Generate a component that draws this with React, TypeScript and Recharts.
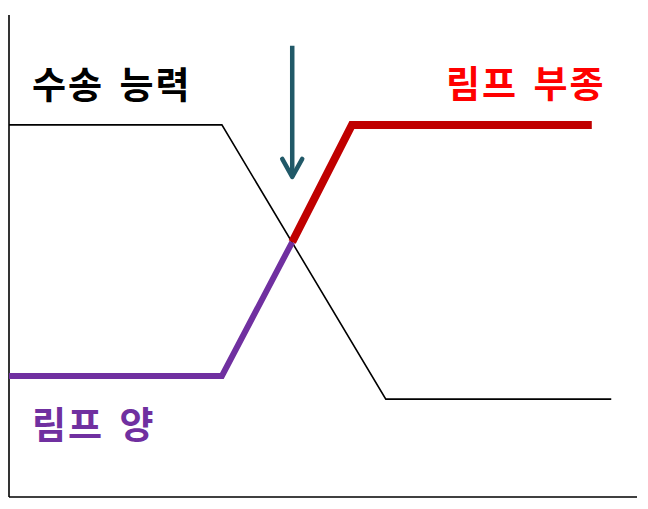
import { LineChart, Line, XAxis, YAxis, ReferenceLine } from 'recharts';

// Schematic: transport capacity vs lymph load, crossing into lymphoedema.
// x = time (0..100), y = level (0..100).
const capacityX = [0, 33.9, 60.0, 95.9];
const capacityY = [77.2, 77.2, 20.3, 20.3];

const loadX = [0, 33.9, 45.1];
const loadY = [25.1, 25.1, 52.9];

const edemaX = [45.1, 54.6, 92.8];
const edemaY = [52.9, 77.2, 77.2];

const arrowX = [45.1, 45.1];
const arrowY = [93.6, 66.4];

const LABEL_CAPACITY = '수송 능력';
const LABEL_EDEMA = '림프 부종';
const LABEL_LOAD = '림프 양';

const toPoints = (xs: number[], ys: number[]) => xs.map((x, i) => ({ x, y: ys[i] }));

const ARROW = '#215968';
const FONT = '"Noto Sans CJK KR", "Noto Sans", sans-serif';

function ArrowHead(props: any) {
  const { cx, cy, index } = props;
  if (index !== arrowX.length - 1) return <g key={`a${index}`} />;
  return (
    <path
      key={`a${index}`}
      d={`M${cx - 10},${cy - 18} L${cx},${cy} L${cx + 10},${cy - 18}`}
      fill="none"
      stroke={ARROW}
      strokeWidth={4.5}
      strokeLinecap="round"
      strokeLinejoin="round"
    />
  );
}

const labelStyle = (color: string, left: number, top: number): React.CSSProperties => ({
  position: 'absolute',
  left,
  top,
  color,
  fontFamily: FONT,
  fontWeight: 700,
  fontSize: 37,
  lineHeight: 1,
  whiteSpace: 'pre',
  letterSpacing: 2,
  wordSpacing: 5,
});

export default function App() {
  return (
    <div style={{ position: 'absolute', left: 0, top: 0, width: 648, height: 509, background: '#fff' }}>
      <LineChart width={648} height={509} margin={{ top: 15, right: 11, bottom: 12, left: 9 }}>
        <XAxis type="number" dataKey="x" domain={[0, 100]} allowDataOverflow hide />
        <YAxis type="number" dataKey="y" domain={[0, 100]} allowDataOverflow hide />
        <ReferenceLine x={0} stroke="#000" strokeWidth={1.6} />
        <ReferenceLine y={0} stroke="#000" strokeWidth={1.6} />
        <Line
          data={toPoints(capacityX, capacityY)}
          dataKey="y"
          type="linear"
          stroke="#000"
          strokeWidth={1.6}
          dot={false}
          isAnimationActive={false}
        />
        <Line
          data={toPoints(loadX, loadY)}
          dataKey="y"
          type="linear"
          stroke="#7030A0"
          strokeWidth={6}
          strokeLinejoin="miter"
          dot={false}
          isAnimationActive={false}
        />
        <Line
          data={toPoints(edemaX, edemaY)}
          dataKey="y"
          type="linear"
          stroke="#C00000"
          strokeWidth={8}
          strokeLinejoin="miter"
          dot={false}
          isAnimationActive={false}
        />
        <Line
          data={toPoints(arrowX, arrowY)}
          dataKey="y"
          type="linear"
          stroke={ARROW}
          strokeWidth={4.5}
          dot={ArrowHead}
          activeDot={false}
          isAnimationActive={false}
        />
      </LineChart>
      <div style={labelStyle('#000', 32, 65)}>{LABEL_CAPACITY}</div>
      <div style={labelStyle('#FF0000', 446, 64)}>{LABEL_EDEMA}</div>
      <div style={labelStyle('#7030A0', 32, 405)}>{LABEL_LOAD}</div>
    </div>
  );
}
